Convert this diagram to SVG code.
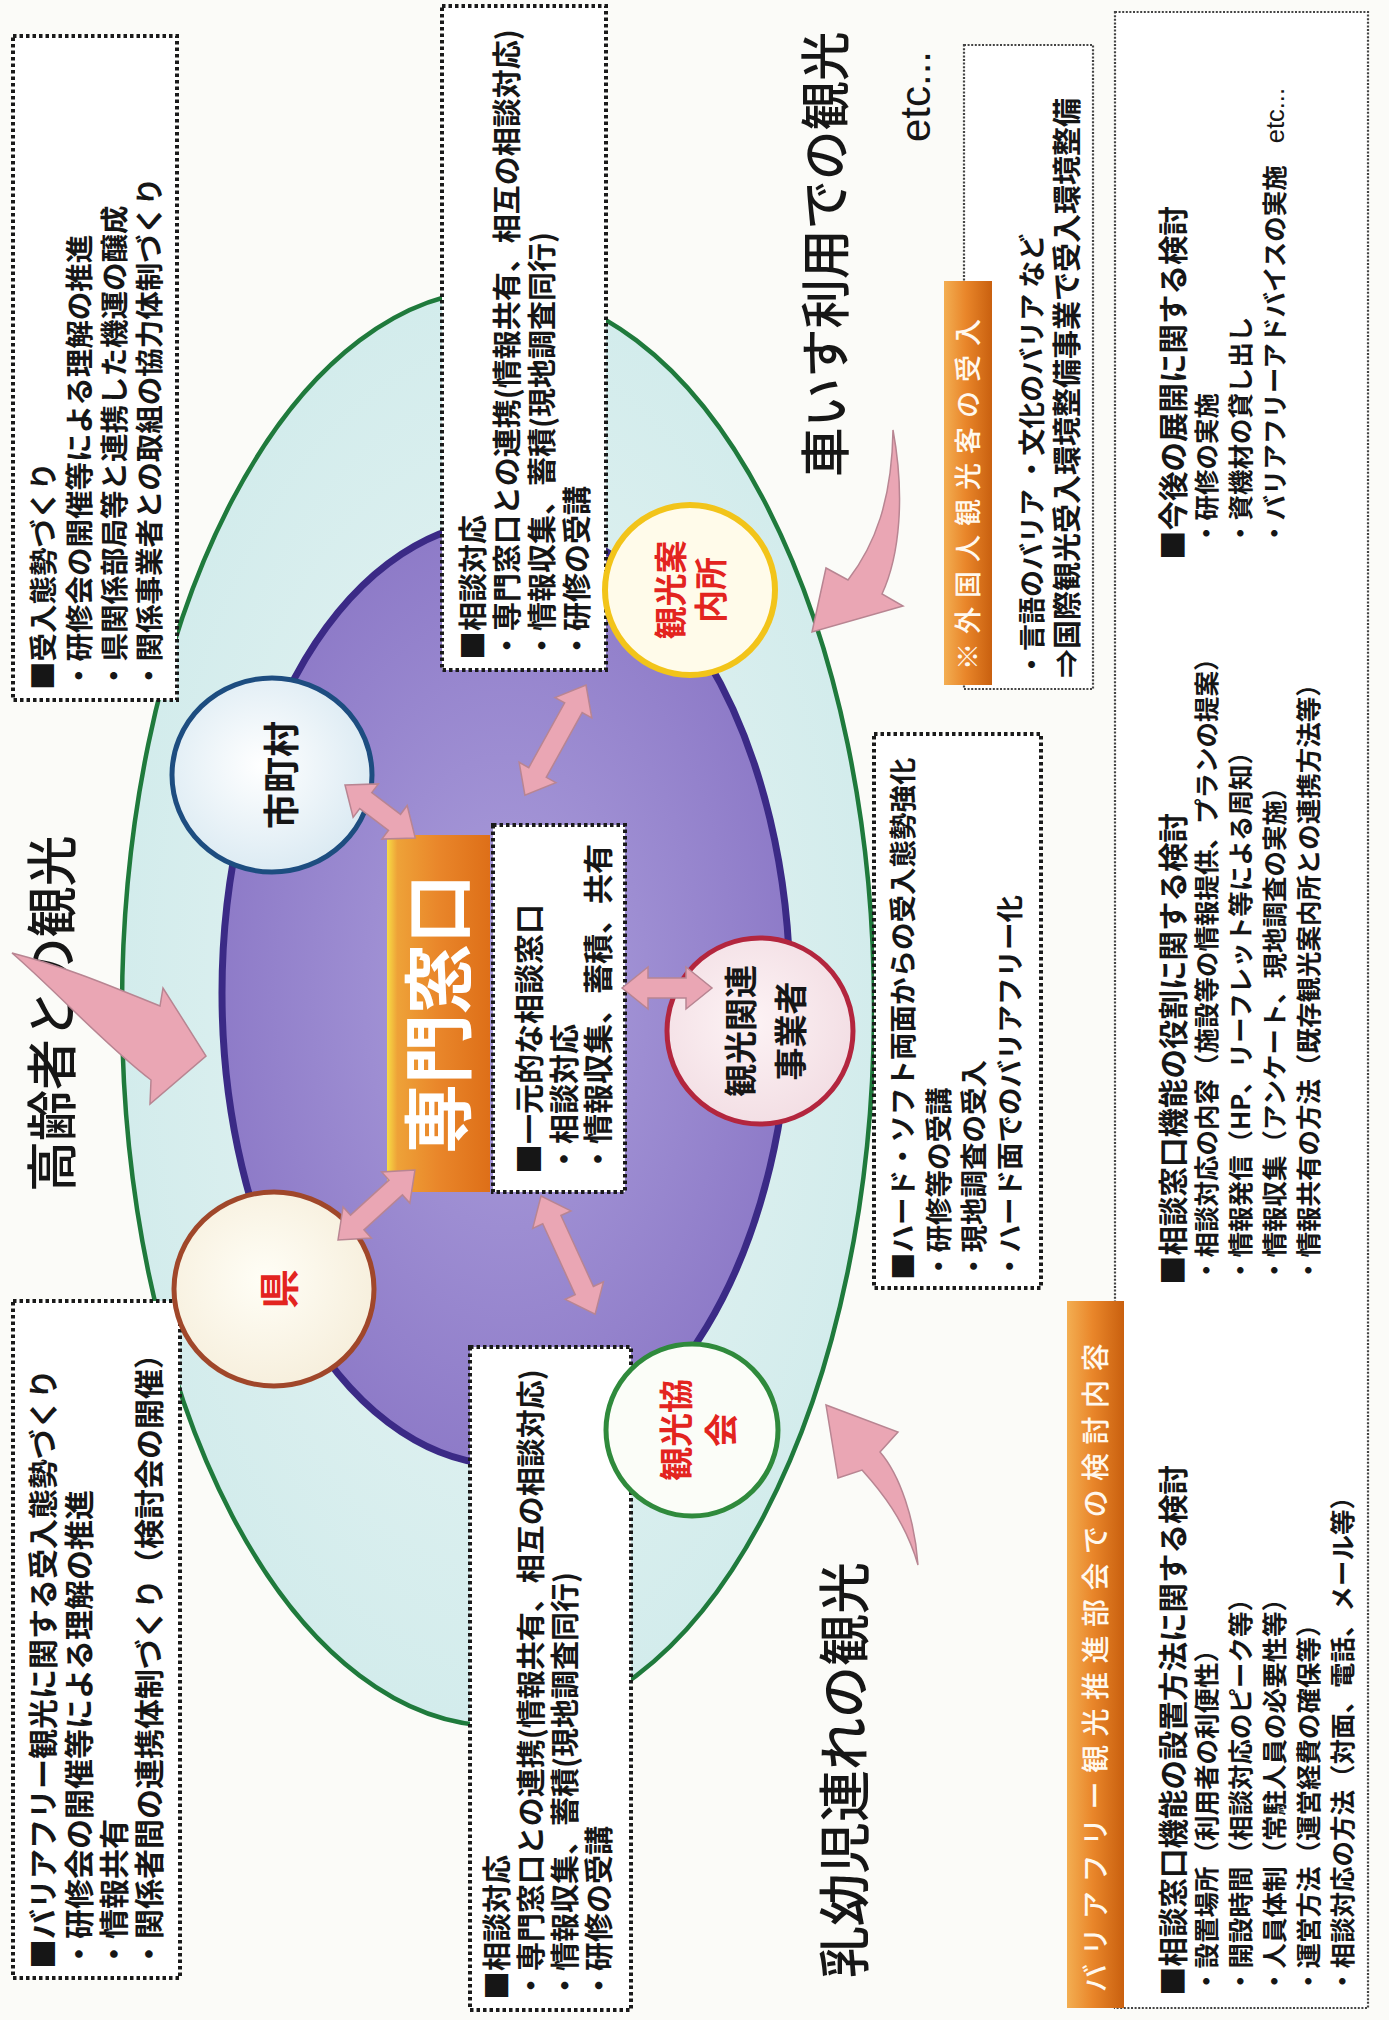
<svg xmlns="http://www.w3.org/2000/svg" width="1389" height="2020" viewBox="0 0 1389 2020">
<style>
.t{font-family:'Noto Sans CJK JP','Noto Sans CJK SC',sans-serif;font-weight:700;fill:#161616;font-size:29px}
.ri{font-size:25.5px}
.rh{font-size:29.5px}
.big{font-family:'Noto Sans CJK JP',sans-serif;font-weight:500;fill:#161616}
.dbox{fill:#fff;stroke:#1a1a1a;stroke-width:4;stroke-dasharray:3.5 3}
.fbox{fill:#fff;stroke:#444;stroke-width:2.2;stroke-dasharray:2 1.6}
.arr{fill:#eaa6b4;stroke:#b88592;stroke-width:1.5}
.wt{fill:#fff8ee;font-weight:500}
.red{fill:#e3241f}
</style>
<defs>
<radialGradient id="gGreen" cx="0.5" cy="0.5" r="0.5"><stop offset="0" stop-color="#e9f5f4"/><stop offset="1" stop-color="#d3ecec"/></radialGradient>
<radialGradient id="gPurple" cx="0.5" cy="0.5" r="0.5"><stop offset="0" stop-color="#ac9fdc"/><stop offset="1" stop-color="#8e7bc8"/></radialGradient>
<linearGradient id="gOrange" x1="0" y1="0" x2="1" y2="0"><stop offset="0" stop-color="#f7dc45"/><stop offset="0.1" stop-color="#eea238"/><stop offset="0.5" stop-color="#e9862a"/><stop offset="1" stop-color="#de6f18"/></linearGradient>
<linearGradient id="gLabel" x1="0" y1="0" x2="1" y2="0"><stop offset="0" stop-color="#f3ae52"/><stop offset="0.45" stop-color="#e9862a"/><stop offset="1" stop-color="#c9600f"/></linearGradient>
<radialGradient id="gBlue" cx="0.45" cy="0.45" r="0.6"><stop offset="0" stop-color="#ffffff"/><stop offset="1" stop-color="#d9e9f2"/></radialGradient>
<radialGradient id="gCream" cx="0.45" cy="0.45" r="0.6"><stop offset="0" stop-color="#fffef6"/><stop offset="1" stop-color="#f6eedb"/></radialGradient>
<radialGradient id="gPink" cx="0.45" cy="0.45" r="0.6"><stop offset="0" stop-color="#fdf3f5"/><stop offset="1" stop-color="#f2dde3"/></radialGradient>
</defs>
<rect width="1389" height="2020" fill="#fbfbf8"/>

<g id="areas">
<ellipse cx="498" cy="1008" rx="376" ry="718" fill="url(#gGreen)" stroke="#1f7a3c" stroke-width="4.5"/>
<ellipse cx="506" cy="993" rx="284" ry="472" fill="url(#gPurple)" stroke="#3b2a86" stroke-width="7"/>
</g>

<g id="title-labels">
<g transform="matrix(0,-1,1,0,0,2020)">
<text class="big" x="828" y="71" style="font-size:51px">高齢者との観光</text>
<text class="big" x="1543" y="844" style="font-size:49.5px">車いす利用での観光</text>
<text x="1878" y="930" font-family="'Liberation Sans',Arial,sans-serif" font-size="42" fill="#161616">etc...</text>
<text class="big" x="42" y="864" style="font-size:52px">乳幼児連れの観光</text>
</g>
</g>

<g id="box-tl">
<rect class="dbox" x="13" y="36" width="164" height="664"/>
<g transform="matrix(0,-1,1,0,0,2020)">
<text class="t" x="1330" y="54" style="font-size:28.5px">■受入態勢づくり</text>
<text class="t" x="1330" y="90" style="font-size:28.5px">・研修会の開催等による理解の推進</text>
<text class="t" x="1330" y="125" style="font-size:28.5px">・県関係部局等と連携した機運の醸成</text>
<text class="t" x="1330" y="160" style="font-size:28.5px">・関係事業者との取組の協力体制づくり</text>
</g>
</g>

<g id="box-tm">
<rect class="dbox" x="442" y="6" width="164" height="664"/>
<g transform="matrix(0,-1,1,0,0,2020)">
<text class="t" x="1360" y="484">■相談対応</text>
<text class="t" x="1360" y="518">・専門窓口との連携(情報共有、相互の相談対応)</text>
<text class="t" x="1360" y="553">・情報収集、蓄積(現地調査同行)</text>
<text class="t" x="1360" y="588">・研修の受講</text>
</g>
</g>

<g id="box-foreign">
<rect class="fbox" x="964" y="45" width="129" height="644"/>
<rect x="944" y="281" width="48" height="404" fill="url(#gLabel)"/>
<g transform="matrix(0,-1,1,0,0,2020)">
<text class="t wt" x="1350" y="978" style="font-size:27px" letter-spacing="9">※外国人観光客の受入</text>
<text class="t" x="1342" y="1042" style="font-size:27px">・言語のバリア ・文化のバリア など</text>
<text class="t" x="1342" y="1078">⇒国際観光受入環境整備事業で受入環境整備</text>
</g>
</g>

<g id="box-right">
<rect class="fbox" x="1115" y="12" width="253" height="1996"/>
<rect x="1067" y="1301" width="57" height="707" fill="url(#gLabel)"/>
<g transform="matrix(0,-1,1,0,0,2020)">
<text class="t wt" x="28" y="1106" style="font-size:28px" letter-spacing="8.5">バリアフリー観光推進部会での検討内容</text>
<text class="t rh" x="24" y="1184">■相談窓口機能の設置方法に関する検討</text>
<text class="t ri" x="26" y="1216">・設置場所（利用者の利便性）</text>
<text class="t ri" x="26" y="1250">・開設時間（相談対応のピーク等）</text>
<text class="t ri" x="26" y="1284">・人員体制（常駐人員の必要性等）</text>
<text class="t ri" x="26" y="1318">・運営方法（運営経費の確保等）</text>
<text class="t ri" x="26" y="1352">・相談対応の方法（対面、電話、メール等）</text>
<text class="t rh" x="735" y="1184">■相談窓口機能の役割に関する検討</text>
<text class="t ri" x="737" y="1216">・相談対応の内容（施設等の情報提供、プランの提案）</text>
<text class="t ri" x="737" y="1250">・情報発信（HP、リーフレット等による周知）</text>
<text class="t ri" x="737" y="1284">・情報収集（アンケート、現地調査の実施）</text>
<text class="t ri" x="737" y="1318">・情報共有の方法（既存観光案内所との連携方法等）</text>
<text class="t rh" x="1460" y="1184">■今後の展開に関する検討</text>
<text class="t ri" x="1474" y="1216">・研修の実施</text>
<text class="t ri" x="1474" y="1250">・資機材の貸し出し</text>
<text class="t ri" x="1474" y="1284">・バリアフリーアドバイスの実施<tspan font-family="'Liberation Sans',Arial,sans-serif" font-weight="400" dx="22">etc...</tspan></text>
</g>
</g>

<g id="box-bl">
<rect class="dbox" x="13" y="1301" width="167" height="677"/>
<g transform="matrix(0,-1,1,0,0,2020)">
<text class="t" x="51" y="54" style="font-size:30px">■バリアフリー観光に関する受入態勢づくり</text>
<text class="t" x="51" y="90" style="font-size:30px">・研修会の開催等による理解の推進</text>
<text class="t" x="51" y="125" style="font-size:30px">・情報共有</text>
<text class="t" x="51" y="160" style="font-size:30px">・関係者間の連携体制づくり（検討会の開催）</text>
</g>
</g>

<g id="box-bm">
<rect class="dbox" x="470" y="1347" width="161" height="663"/>
<g transform="matrix(0,-1,1,0,0,2020)">
<text class="t" x="20" y="508">■相談対応</text>
<text class="t" x="20" y="542">・専門窓口との連携(情報共有、相互の相談対応)</text>
<text class="t" x="20" y="576">・情報収集、蓄積(現地調査同行)</text>
<text class="t" x="20" y="610">・研修の受講</text>
</g>
</g>

<g id="box-mr">
<rect class="dbox" x="874" y="734" width="167" height="554"/>
<g transform="matrix(0,-1,1,0,0,2020)">
<text class="t" x="740" y="913" style="font-size:27.5px">■ハード・ソフト両面からの受入態勢強化</text>
<text class="t" x="740" y="949" style="font-size:27.5px">・研修等の受講</text>
<text class="t" x="740" y="984" style="font-size:27.5px">・現地調査の受入</text>
<text class="t" x="740" y="1020" style="font-size:27.5px">・ハード面でのバリアフリー化</text>
</g>
</g>

<g id="node-center">
<rect x="387" y="835" width="103" height="357" fill="url(#gOrange)"/>
<rect class="dbox" x="493" y="825" width="132" height="367"/>
<g transform="matrix(0,-1,1,0,0,2020)">
<text class="t" x="1006" y="465" text-anchor="middle" style="font-size:70px;fill:#fff">専門窓口</text>
<text class="t" x="846" y="540" style="font-size:30px">■一元的な相談窓口</text>
<text class="t" x="846" y="575" style="font-size:30px">・相談対応</text>
<text class="t" x="846" y="609" style="font-size:30px">・情報収集、蓄積、共有</text>
</g>
</g>

<g id="node-shichoson">
<ellipse cx="272" cy="775" rx="100" ry="97" fill="url(#gBlue)" stroke="#1d4d80" stroke-width="5"/>
<g transform="matrix(0,-1,1,0,0,2020)"><text class="t" x="1245" y="295" text-anchor="middle" style="font-size:36px">市町村</text></g>
</g>

<g id="node-ken">
<ellipse cx="274" cy="1289" rx="100" ry="97" fill="url(#gCream)" stroke="#a0472a" stroke-width="5"/>
<g transform="matrix(0,-1,1,0,0,2020)"><text class="t red" x="731" y="294" text-anchor="middle" style="font-size:40px">県</text></g>
</g>

<g id="node-annaijo">
<circle cx="690" cy="590" r="85" fill="#fffbea" stroke="#f2c41a" stroke-width="6"/>
<g transform="matrix(0,-1,1,0,0,2020)">
<text class="t red" x="1430" y="683" text-anchor="middle" style="font-size:33px">観光案</text>
<text class="t red" x="1430" y="723" text-anchor="middle" style="font-size:33px">内所</text>
</g>
</g>

<g id="node-jigyosha">
<circle cx="760" cy="1031" r="93" fill="url(#gPink)" stroke="#b3263e" stroke-width="5"/>
<g transform="matrix(0,-1,1,0,0,2020)">
<text class="t" x="989" y="753" text-anchor="middle" style="font-size:33px">観光関連</text>
<text class="t" x="989" y="803" text-anchor="middle" style="font-size:33px">事業者</text>
</g>
</g>

<g id="node-kyokai">
<circle cx="692" cy="1430" r="86" fill="#fbfdf8" stroke="#2f8a3c" stroke-width="5"/>
<g transform="matrix(0,-1,1,0,0,2020)">
<text class="t red" x="590" y="689" text-anchor="middle" style="font-size:34px">観光協</text>
<text class="t red" x="590" y="734" text-anchor="middle" style="font-size:34px">会</text>
</g>
</g>

<g id="connectors">
<path class="arr" transform="translate(345,785) rotate(37)" d="M0,0 L26,-21 L26,-10 L62,-10 L62,-21 L88,0 L62,21 L62,10 L26,10 L26,21 Z"/>
<path class="arr" transform="translate(586,685) rotate(119)" d="M0,0 L26,-21 L26,-10 L100,-10 L100,-21 L126,0 L100,21 L100,10 L26,10 L26,21 Z"/>
<path class="arr" transform="translate(622,988)" d="M0,0 L26,-21 L26,-10 L64,-10 L64,-21 L90,0 L64,21 L64,10 L26,10 L26,21 Z"/>
<path class="arr" transform="translate(338,1240) rotate(-42.3)" d="M0,0 L26,-21 L26,-10 L78,-10 L78,-21 L104,0 L78,21 L78,10 L26,10 L26,21 Z"/>
<path class="arr" transform="translate(541,1196) rotate(65.4)" d="M0,0 L26,-21 L26,-10 L104,-10 L104,-21 L130,0 L104,21 L104,10 L26,10 L26,21 Z"/>
<path class="arr" d="M12,953 C70,968 120,990 160,1006 L163,988 L206,1056 L150,1104 L151,1080 C105,1045 55,990 12,953 Z"/>
<path class="arr" d="M893,430 C892,500 875,545 848,580 L826,568 L812,632 L903,606 L882,594 C900,555 905,495 893,430 Z"/>
<path class="arr" d="M918,1565 C905,1520 880,1490 862,1470 L838,1478 L826,1405 L898,1432 L880,1452 C900,1475 915,1520 918,1565 Z"/>
</g>
</svg>
